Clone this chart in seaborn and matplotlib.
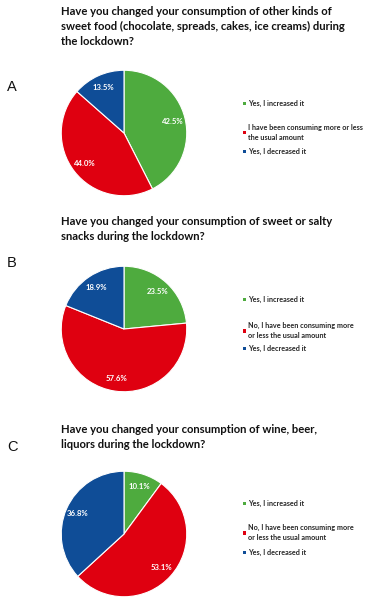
import matplotlib
matplotlib.use('Agg')
import matplotlib.pyplot as plt
import seaborn as sns
from matplotlib.patches import Patch

sns.set_theme(style='white')
plt.rcParams['font.family'] = ['Lato', 'DejaVu Sans']

# data
answers_a = ['Yes, I increased it',
             'I have been consuming more or less\nthe usual amount',
             'Yes, I decreased it']
answers_bc = ['Yes, I increased it',
              'No, I have been consuming more\nor less the usual amount',
              'Yes, I decreased it']
sweet_food = [42.5, 44.0, 13.5]
snacks = [23.5, 57.6, 18.9]
alcohol = [10.1, 53.1, 36.8]

titles = ['Have you changed your consumption of other kinds of\nsweet food (chocolate, spreads, cakes, ice creams) during\nthe lockdown?',
          'Have you changed your consumption of sweet or salty\nsnacks during the lockdown?',
          'Have you changed your consumption of wine, beer,\nliquors during the lockdown?']
letters = ['A', 'B', 'C']

colors = sns.color_palette(['#4eab3e', '#df0010', '#0f4d97'])

W, H = 374, 602
fig = plt.figure(figsize=(W / 100, H / 100), dpi=100)


def fx(x):
    return x / W


def fy(y):
    return 1 - y / H


panels = [
    # values, labels, title y, letter y, pie centre y, legend rows y
    (sweet_food, answers_a, 6, 87, 133, (104, 128, 152)),
    (snacks, answers_bc, 216, 263, 329, (300, 326, 349)),
    (alcohol, answers_bc, 424, 447, 534, (504, 528, 553)),
]

for i, (vals, labs, ty, ly, cy, rows) in enumerate(panels):
    fig.text(fx(61), fy(ty), titles[i], ha='left', va='top',
             fontsize=8.1, fontweight='bold', color='#111111', linespacing=1.42)
    fig.text(fx(12), fy(ly), letters[i], ha='center', va='center',
             fontsize=10.5, family='Liberation Sans', color='#111111')

    r = 64
    ax = fig.add_axes([fx(124 - r), fy(cy + r), 2 * r / W, 2 * r / H])
    ax.pie(vals, colors=colors, startangle=90, counterclock=False,
           autopct='%.1f%%', pctdistance=0.8,
           wedgeprops=dict(edgecolor='white', linewidth=0.8),
           textprops=dict(color='white', fontweight='bold', fontsize=5.6))
    ax.set_xlim(-1.02, 1.02)
    ax.set_ylim(-1.02, 1.02)

    # one legend entry per row so the spacing follows the original
    for c, lab, ry in zip(colors, labs, rows):
        leg = fig.legend([Patch(facecolor=c, edgecolor='none')], [lab],
                         loc='upper left', bbox_to_anchor=(fx(243), fy(ry - 4)),
                         frameon=False, handlelength=0.35, handleheight=0.35,
                         handletextpad=0.4, borderpad=0, borderaxespad=0,
                         prop=dict(weight='bold', size=5.2))
        for t in leg.get_texts():
            t.set_linespacing(1.45)

fig.savefig('out.png', dpi=100)
